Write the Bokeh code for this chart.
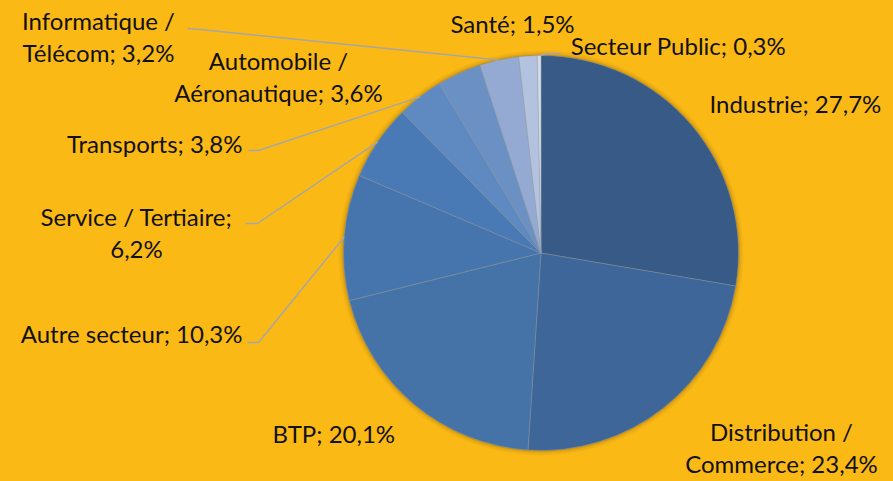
import numpy as np
from bokeh.plotting import figure
from bokeh.models import ColumnDataSource, Range1d, GlobalInlineStyleSheet
from bokeh.core.properties import value
from bokeh.embed import file_html
from bokeh.resources import INLINE

# ---- data ----
categories = ["Industrie", "Distribution / Commerce", "BTP", "Autre secteur",
              "Service / Tertiaire", "Transports", "Automobile / Aéronautique",
              "Informatique / Télécom", "Santé", "Secteur Public"]
shares = [27.7, 23.4, 20.1, 10.3, 6.2, 3.8, 3.6, 3.2, 1.5, 0.3]
colors = ["#375A86", "#3E6699", "#4573A8", "#4675AD", "#4A7AB6",
          "#5E89C1", "#6B90C4", "#95AAD2", "#B3C3DF", "#D5DCE9"]
label_texts = ["Industrie; 27,7%", "Distribution /\nCommerce; 23,4%", "BTP; 20,1%",
               "Autre secteur; 10,3%", "Service / Tertiaire;\n6,2%", "Transports; 3,8%",
               "Automobile /\nAéronautique; 3,6%", "Informatique /\nTélécom; 3,2%",
               "Santé; 1,5%", "Secteur Public; 0,3%"]

# ---- layout (page pixel coords of the reference) ----
W, H = 893, 481
BG = "#FBB916"
def fx(X): return X
def fy(Y): return H - Y

CX, CY, R = fx(540.5), fy(252.5), 197.5

# label anchor (page px), alignment
label_pos = [(709, 103, "left"), (781, 447, "center"), (272, 433, "left"),
             (242, 333, "right"), (136, 232, "center"), (242, 143, "right"),
             (278, 76, "center"), (98, 36, "center"), (512, 23, "center"),
             (678, 45, "center")]

# leader knees on the label side (page px); pie side computed from data
leader_knees = {7: [(187, 28), (200, 29)],
                5: [(248, 150), (258, 150)],
                4: [(245, 223), (257, 223)],
                3: [(247, 342), (258, 342)],
                9: [(560, 53), (548, 53)]}

vals = np.array(shares, dtype=float)
frac = vals / vals.sum()
cum_after = np.cumsum(frac)
cum_before = cum_after - frac
start = np.pi / 2 - 2 * np.pi * cum_before
end = np.pi / 2 - 2 * np.pi * cum_after
mid = (start + end) / 2

p = figure(width=W, height=H, output_backend="svg", toolbar_location=None,
           x_range=Range1d(0, W), y_range=Range1d(0, H),
           x_axis_type=None, y_axis_type=None, min_border=0,
           background_fill_color=BG, border_fill_color=BG)
p.grid.visible = False
p.outline_line_color = None
p.stylesheets = [GlobalInlineStyleSheet(css="html, body { background: %s; }" % BG)]

# soft shadow around pie
for dr, a in [(5, 0.03), (3.5, 0.04), (2, 0.06), (1, 0.08)]:
    p.circle(x=[CX], y=[CY], radius=R + dr, fill_color="#000000", fill_alpha=a,
             line_color=None)

src = ColumnDataSource(dict(start=start, end=end, color=colors, cat=categories))
p.wedge(x=CX, y=CY, radius=R, start_angle="start", end_angle="end",
        direction="clock", fill_color="color", line_color="#8E9BB0",
        line_width=0.6, line_alpha=0.7, source=src)

# leader lines
xs, ys = [], []
for i, knees in leader_knees.items():
    px_ = CX + R * np.cos(mid[i])
    py_ = CY + R * np.sin(mid[i])
    xs.append([fx(k[0]) for k in knees] + [px_])
    ys.append([fy(k[1]) for k in knees] + [py_])
p.multi_line(xs=xs, ys=ys, line_color="#A6A6A6", line_width=1.5)

# labels
for txt, (X, Y, al) in zip(label_texts, label_pos):
    p.text(x=[fx(X)], y=[fy(Y)], text=[txt], text_align=al, text_baseline="middle",
           text_font=value("Lato"), text_font_size="24px", text_color="#111111",
           text_line_height=1.12)

open("out.html", "w").write(file_html(p, INLINE))
